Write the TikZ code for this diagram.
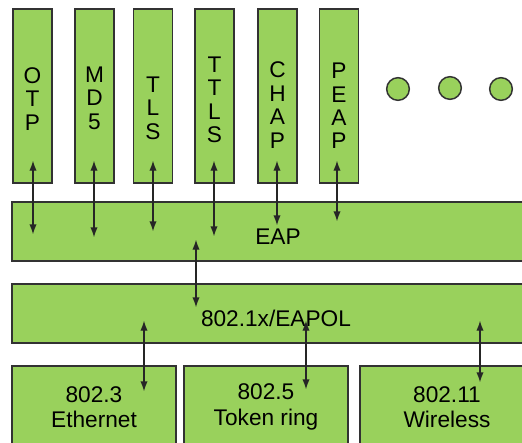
\documentclass[tikz,border=0pt]{standalone}
\usepackage{fontspec}
\setmainfont{Liberation Sans}
\usepackage{tikz}
\usetikzlibrary{arrows.meta,calc,positioning}
\definecolor{layergreen}{RGB}{153,209,92}
\definecolor{edgegray}{RGB}{50,50,50}

\begin{document}
\begin{tikzpicture}[x=0.75pt,y=-0.75pt,
    box/.style={draw=edgegray,line width=1pt,fill=layergreen,inner sep=0pt},
    methodbox/.style={box,minimum width=29.25pt,minimum height=130.5pt},
    layerbox/.style={box,minimum width=388.5pt,minimum height=44.25pt},
    linkbox/.style={box,minimum width=123pt,minimum height=64.5pt},
    txt/.style={inner sep=0pt,align=center,font=\fontsize{17}{17.6}\selectfont},
    dot/.style={circle,draw=edgegray,line width=1.1pt,fill=layergreen,minimum size=17pt,inner sep=0pt},
    link/.style={{Latex[length=7.5pt,width=5.5pt]}-{Latex[length=7.5pt,width=5.5pt]},line width=1pt,draw=black!85}]
    \useasboundingbox (0,0) rectangle (522,443);
    \clip (0,0) rectangle (522,443);
    %Method boxes
    \node[methodbox] (otp) at (32.5,96) {};
    \node[methodbox] (md5) at (94.5,96) {};
    \node[methodbox] (tls) at (153,96) {};
    \node[methodbox] (ttls) at (214.5,96) {};
    \node[methodbox] (chap) at (277.5,96) {};
    \node[methodbox] (peap) at (339,96) {};
    \node[txt] (otp-t) at (32.5,99) {O\\T\\P};
    \node[txt] (md5-t) at (94.5,98) {M\\D\\5};
    \node[txt] (tls-t) at (153,108) {T\\L\\S};
    \node[txt] (ttls-t) at (214.5,100) {T\\T\\L\\S};
    \node[txt] (chap-t) at (277.5,105) {C\\H\\A\\P};
    \node[txt] (peap-t) at (339,106) {P\\E\\A\\P};
    %More methods
    \node[dot] (more1) at (398,89) {};
    \node[dot] (more2) at (450,88) {};
    \node[dot] (more3) at (501,89) {};
    %Layers
    \node[layerbox] (eap) at (271,231.5) {};
    \node[txt] (eap-t) at (278,237) {EAP};
    \node[layerbox] (eapol) at (271,313.5) {};
    \node[txt] (eapol-t) at (276,318) {802.1x/EAPOL};
    %Link layers
    \node[linkbox] (eth) at (94,409) {};
    \node[linkbox] (token) at (266,409) {};
    \node[linkbox,minimum width=130.5pt] (wlan) at (447,409) {};
    \node[txt,font=\fontsize{17}{19}\selectfont] (eth-t) at (94,407) {802.3\\Ethernet};
    \node[txt,font=\fontsize{17}{19}\selectfont] (token-t) at (266,407) {802.5\\Token ring};
    \node[txt,font=\fontsize{17}{19}\selectfont] (wlan-t) at (447,407) {802.11\\Wireless};
    %Arrows
    \draw[link] ($(otp.south)+(0.5,-23)$) -- ($(otp.south |- eap.north)+(0.5,33)$);
    \draw[link] ($(md5.south)+(-0.5,-23)$) -- ($(md5.south |- eap.north)+(-0.5,36)$);
    \draw[link] ($(tls.south)+(0,-23)$) -- ($(tls.south |- eap.north)+(0,30)$);
    \draw[link] ($(ttls.south)+(-0.5,-23)$) -- ($(ttls.south |- eap.north)+(-0.5,35)$);
    \draw[link] ($(chap.south)+(-0.5,-23)$) -- ($(chap.south |- eap.north)+(-0.5,24)$);
    \draw[link] ($(peap.south)+(-2,-23)$) -- ($(peap.south |- eap.north)+(-2,20)$);
    \draw[link] ($(eap.south)+(-75,-22)$) -- ($(eapol.north)+(-75,24)$);
    \draw[link] ($(eapol.south)+(-127,-23)$) -- ($(eth.north)+(50,26)$);
    \draw[link] ($(eapol.south)+(35,-23)$) -- ($(token.north)+(40,24)$);
    \draw[link] ($(eapol.south)+(209,-23)$) -- ($(wlan.north)+(33,17)$);
\end{tikzpicture}
\end{document}
